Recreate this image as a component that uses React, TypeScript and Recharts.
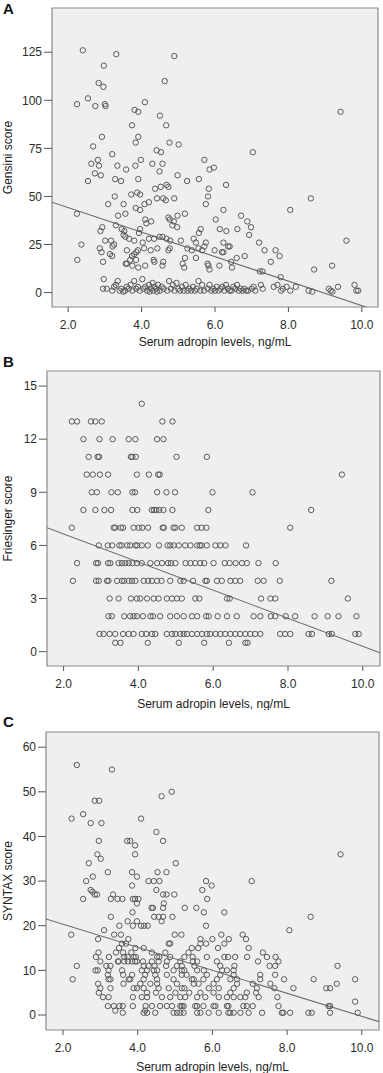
import React from "react";
import { ScatterChart, Scatter, XAxis, YAxis, ReferenceArea, ReferenceLine, Label } from "recharts";

type Pt = [number, number];

const FONT = '"Liberation Sans", Arial, Helvetica, sans-serif';

const xTicks = [2, 4, 6, 8, 10];
const gensiniTicks = [0, 25, 50, 75, 100, 125];
const friesingerTicks = [0, 3, 6, 9, 12, 15];
const syntaxTicks = [0, 10, 20, 30, 40, 50, 60];

// fitted lines: y = a + b * x
const gensiniFit = { a: 56.9, b: -6.37 };
const friesingerFit = { a: 8.23, b: -0.793 };
const syntaxFit = { a: 25.5, b: -2.58 };

// A: Gensini score vs adropin
const gensini: Pt[] = [
  [2.4, 126], [3.31, 124], [4.89, 123], [2.97, 118], [4.63, 110], [2.83, 109], [2.96, 107],
  [2.24, 98], [2.54, 101], [2.74, 97], [3.0, 98], [3.02, 97], [4.09, 99], [3.81, 95], [3.91, 94],
  [9.42, 94], [4.5, 92], [4.67, 87], [3.74, 87], [2.92, 81], [3.91, 81], [3.84, 78], [4.76, 78],
  [5.01, 77], [2.68, 76], [7.03, 73], [4.41, 74], [4.53, 73], [3.2, 72], [2.81, 69], [2.84, 66],
  [2.63, 67], [3.98, 69], [5.71, 69], [3.34, 66], [3.83, 66], [4.29, 67], [4.57, 67], [5.97, 65],
  [5.85, 64], [3.58, 64], [2.73, 62], [2.89, 61], [4.98, 61], [4.49, 63], [2.54, 58], [3.28, 59],
  [3.44, 58], [3.91, 59], [5.24, 58], [5.56, 59], [6.3, 56], [4.37, 54], [4.52, 55], [4.68, 56],
  [4.73, 55], [5.83, 54], [3.09, 46], [3.27, 50], [3.51, 46], [3.72, 51], [3.88, 52], [3.96, 51],
  [3.84, 44], [3.96, 43], [4.08, 46], [4.2, 47], [4.42, 49], [4.59, 49], [4.66, 48], [4.89, 49],
  [5.81, 50], [5.75, 46], [8.61, 49], [8.05, 43], [6.23, 43], [6.02, 38], [5.18, 41], [4.98, 40],
  [2.24, 41], [3.36, 40], [3.56, 41], [4.1, 38], [4.13, 36], [4.26, 37], [4.73, 39], [4.77, 38],
  [4.88, 37], [4.84, 35], [4.97, 34], [6.71, 40], [6.88, 37], [6.98, 34], [6.93, 30], [3.3, 35],
  [2.93, 34], [2.88, 32], [3.46, 33], [3.53, 32], [3.96, 33], [3.93, 31], [5.61, 33], [5.56, 31],
  [6.13, 33], [6.31, 32], [6.61, 33], [4.49, 29], [4.57, 29], [4.68, 28], [4.78, 27], [5.42, 28],
  [5.48, 26], [3.51, 30], [3.56, 29], [3.66, 28], [3.8, 27], [4.2, 28], [4.34, 28], [3.01, 27],
  [3.17, 27], [3.25, 25], [3.21, 24], [4.03, 26], [5.07, 27], [6.23, 26], [6.36, 24], [6.4, 24],
  [5.75, 26], [5.71, 24], [7.2, 26], [9.58, 27], [2.36, 25], [3.6, 22], [3.9, 22], [3.86, 21],
  [3.8, 20], [2.86, 23], [2.91, 21], [3.14, 20], [3.2, 19], [4.07, 23], [4.25, 22], [4.43, 23],
  [4.77, 23], [4.73, 22], [5.25, 23], [5.37, 22], [5.55, 23], [5.65, 22], [5.99, 22], [6.19, 21],
  [6.23, 21], [7.35, 22], [7.65, 22], [7.76, 19], [6.81, 19], [6.59, 18], [5.18, 18], [5.48, 18],
  [2.25, 17], [2.95, 16], [3.74, 19], [3.69, 17], [3.85, 17], [4.33, 17], [4.35, 16], [3.57, 15],
  [3.6, 15], [4.59, 16], [4.57, 14], [5.12, 15], [5.16, 13], [5.8, 15], [5.82, 14], [5.85, 12],
  [6.44, 16], [6.46, 13], [6.12, 14], [7.52, 16], [3.75, 14], [3.91, 13], [4.1, 14], [9.19, 14],
  [8.7, 12], [7.22, 11], [7.29, 11], [7.79, 8], [2.97, 7], [4.02, 7],
  [2.95, 2], [3.05, 2], [3.2, 1], [3.25, 3], [3.3, 4], [3.35, 6], [3.4, 1], [3.45, 2], [3.5, 0.5],
  [3.55, 1], [3.6, 3], [3.65, 2], [3.7, 4], [3.75, 1], [3.8, 6], [3.85, 2], [3.9, 3], [3.95, 1],
  [4.05, 2], [4.1, 3], [4.15, 1], [4.2, 4], [4.22, 0.5], [4.25, 2], [4.3, 5], [4.32, 1], [4.35, 3],
  [4.4, 2], [4.42, 0.5], [4.45, 4], [4.5, 1], [4.55, 3], [4.6, 2], [4.7, 1], [4.75, 6], [4.8, 2],
  [4.85, 4], [4.9, 1], [4.95, 5], [5.0, 2], [5.05, 1], [5.1, 3], [5.15, 1], [5.2, 4], [5.25, 1],
  [5.3, 2], [5.35, 1], [5.4, 3], [5.45, 1], [5.5, 2], [5.55, 6], [5.6, 1], [5.65, 4], [5.7, 1],
  [5.8, 2], [5.85, 4], [5.9, 1], [5.95, 2], [6.0, 1], [6.05, 3], [6.1, 1], [6.15, 2], [6.2, 3],
  [6.25, 1], [6.3, 4], [6.35, 2], [6.4, 1], [6.45, 1], [6.5, 3], [6.55, 2], [6.6, 4], [6.65, 1],
  [6.7, 2], [6.75, 1], [6.8, 2], [6.85, 1], [6.9, 1], [7.0, 2], [7.05, 3], [7.1, 1], [7.25, 4],
  [7.3, 2], [7.6, 3], [7.7, 4], [7.8, 1], [7.85, 2], [7.95, 3], [8.05, 1], [8.2, 3], [8.55, 1],
  [8.65, 0.5], [9.1, 2], [9.15, 1], [9.2, 0.5], [9.35, 3], [9.8, 4], [9.85, 1], [9.9, 1],
];

// B: Friesinger score, one row of adropin values per score
const friesingerRows: [number, number[]][] = [
  [14, [4.09]],
  [13, [2.22, 2.36, 2.73, 2.85, 3.02, 4.64, 4.91]],
  [12, [2.53, 2.96, 3.31, 3.74, 3.92, 4.5, 4.67]],
  [11, [2.67, 2.91, 2.95, 3.8, 3.84, 3.93, 5.02, 5.83]],
  [10, [2.62, 2.78, 2.97, 3.19, 3.96, 4.28, 4.53, 4.57, 9.44]],
  [9, [2.75, 2.89, 3.28, 3.45, 3.84, 3.91, 4.5, 4.75, 4.98, 5.98, 7.05]],
  [8, [2.53, 2.85, 3.09, 3.27, 3.84, 3.97, 4.36, 4.42, 4.48, 4.56, 4.67, 4.91, 5.87, 8.62]],
  [7, [2.22, 3.34, 3.38, 3.53, 3.59, 3.87, 4.01, 4.1, 4.26, 4.65, 4.68, 4.94, 4.99, 5.16, 5.57, 5.69, 5.82, 8.06]],
  [6, [2.94, 3.18, 3.3, 3.49, 3.55, 3.7, 3.78, 3.92, 3.97, 4.09, 4.25, 4.55, 4.78, 4.85, 4.94, 5.08, 5.25, 5.39, 5.57, 5.64, 5.69, 5.83, 6.06, 6.19, 6.33, 6.88]],
  [5, [2.36, 2.87, 2.92, 3.19, 3.25, 3.47, 3.56, 3.65, 3.74, 3.84, 3.96, 4.09, 4.32, 4.5, 4.63, 4.79, 4.87, 4.99, 5.26, 5.39, 5.52, 5.65, 5.76, 6.01, 6.31, 6.44, 6.6, 6.77, 6.9, 7.21, 7.67]],
  [4, [2.25, 2.87, 2.94, 3.16, 3.2, 3.43, 3.56, 3.62, 3.74, 3.83, 3.92, 4.14, 4.26, 4.36, 4.5, 4.62, 4.85, 5.12, 5.21, 5.46, 5.79, 5.83, 6.1, 6.23, 6.46, 6.59, 6.72, 7.19, 7.35, 7.78, 9.16]],
  [3, [3.23, 3.47, 3.8, 3.96, 4.05, 4.23, 4.41, 4.54, 4.76, 4.9, 5.03, 5.16, 5.52, 5.63, 6.37, 6.44, 7.28, 7.53, 7.66, 9.6]],
  [2, [3.2, 3.29, 3.62, 3.78, 3.87, 3.96, 4.12, 4.32, 4.39, 4.58, 4.85, 5.03, 5.21, 5.43, 5.57, 5.81, 5.88, 6.12, 6.37, 6.63, 7.08, 7.26, 7.54, 7.66, 7.94, 8.19, 8.71, 9.06, 9.35, 9.83]],
  [1, [2.96, 3.07, 3.23, 3.38, 3.59, 3.74, 3.87, 4.09, 4.21, 4.36, 4.45, 4.76, 4.9, 4.99, 5.12, 5.21, 5.3, 5.43, 5.57, 5.7, 5.83, 5.92, 6.06, 6.19, 6.32, 6.46, 6.59, 6.72, 6.86, 6.99, 7.12, 7.26, 7.79, 7.92, 8.06, 8.55, 8.64, 9.09, 9.17, 9.8, 9.89]],
  [0.5, [3.38, 3.52, 4.25, 5.08, 5.76, 6.42, 6.86, 6.92]],
];

// C: SYNTAX score
const syntaxUpper: Pt[] = [
  [2.37, 56], [3.31, 55], [4.91, 50], [4.64, 49], [2.85, 48], [2.97, 48], [2.54, 45], [2.23, 44],
  [4.09, 44], [2.74, 43], [3.03, 43], [4.5, 41], [3.72, 39], [3.8, 39], [4.68, 39], [2.96, 39],
  [3.93, 38], [9.43, 36], [2.92, 36], [3.93, 36], [3.01, 35], [2.69, 34], [5.02, 34], [3.2, 32],
  [3.85, 32], [3.98, 31], [4.53, 32], [4.77, 32], [2.8, 31], [2.62, 30], [4.29, 30], [4.43, 30],
  [4.58, 30], [5.83, 30], [7.05, 30], [5.98, 29], [3.85, 29], [2.74, 28], [2.79, 27.6], [2.85, 27],
  [2.91, 27], [4.5, 28], [5.73, 28], [3.34, 27], [3.46, 26], [3.59, 26], [4.68, 27], [4.77, 27],
  [4.98, 27], [3.87, 26], [3.93, 26], [3.98, 25], [4.02, 26], [2.54, 26], [3.28, 26], [5.86, 26],
  [4.7, 25], [4.37, 24], [4.41, 24], [4.68, 24], [5.26, 24], [5.57, 24], [6.32, 23], [5.77, 23],
  [3.86, 23], [4.44, 22], [4.56, 22], [4.68, 22], [3.28, 22], [4.93, 22], [8.63, 22], [3.73, 21],
  [3.87, 20], [3.98, 21], [4.09, 20], [4.17, 20], [4.27, 20], [4.64, 21], [3.51, 20], [5.83, 20],
  [8.06, 19], [3.1, 19], [2.22, 18], [3.37, 18], [3.55, 18], [4.99, 18], [5.17, 18], [6.24, 18],
  [6.81, 18], [2.94, 17], [3.75, 17], [5.68, 17], [6.0, 17], [6.44, 17], [6.9, 17], [2.37, 11],
  [9.35, 11], [9.82, 3],
];
const syntaxRows: [number, number[]][] = [
  [16, [3.58, 3.69, 4.83, 4.87, 5.68, 5.83, 6.32]],
  [15, [3.5, 3.94, 4.16, 5.45, 5.62, 6.15, 6.97]],
  [14, [2.95, 3.42, 3.61, 3.83, 4.38, 4.74, 5.36, 7.35]],
  [13, [2.88, 3.23, 3.64, 3.73, 3.89, 3.95, 4.52, 4.58, 4.87, 5.25, 5.47, 5.85, 6.32, 6.42, 6.61, 6.93, 7.46, 7.69]],
  [12, [3.0, 3.47, 3.49, 3.64, 3.74, 3.85, 3.93, 3.98, 4.14, 4.38, 4.56, 4.78, 5.14, 5.48, 5.59, 6.12, 7.22, 7.77]],
  [11, [3.16, 3.27, 4.16, 4.29, 4.45, 4.76, 5.05, 5.18, 5.52, 6.21, 6.59, 7.53, 7.68]],
  [10, [2.87, 2.93, 3.22, 3.58, 4.11, 4.25, 4.43, 4.52, 4.96, 5.18, 5.25, 5.59, 5.77, 6.26, 6.39, 6.57]],
  [9, [3.2, 3.61, 3.85, 4.2, 4.47, 4.78, 5.18, 5.31, 5.85, 6.21, 6.57, 7.28, 7.68]],
  [8, [2.26, 3.22, 3.27, 3.76, 3.8, 4.16, 4.52, 4.96, 5.45, 5.5, 5.76, 6.12, 6.48, 6.66, 7.28, 7.92, 8.71, 9.82]],
  [7, [2.94, 3.62, 4.07, 4.34, 4.52, 5.05, 5.5, 5.63, 6.03, 6.66, 7.08, 7.55, 9.33]],
  [6, [3.0, 3.27, 3.89, 3.98, 4.16, 4.56, 4.83, 5.18, 5.25, 5.9, 6.17, 6.57, 7.19, 7.66, 8.17, 9.05, 9.15]],
  [5, [2.96, 4.25, 4.49, 5.01, 5.38, 5.68, 6.03, 6.48, 6.92, 7.17]],
  [4, [3.07, 3.22, 3.87, 4.11, 4.25, 4.65, 4.87, 5.14, 5.27, 5.59, 5.81, 6.17, 6.39, 6.57, 6.75, 6.88, 7.24, 7.74]],
  [2, [3.2, 3.36, 3.51, 3.6, 3.87, 4.21, 4.38, 4.6, 4.78, 4.92, 5.14, 5.18, 5.23, 5.54, 5.59, 5.76, 6.03, 6.08, 6.39, 6.43, 6.83, 6.92, 7.08, 7.77, 9.11, 9.15]],
  [1, [3.4, 4.2]],
  [0.5, [3.6, 4.16, 4.25, 4.47, 4.96, 5.05, 5.14, 5.23, 5.59, 5.68, 5.9, 6.17, 6.43, 6.48, 6.57, 6.75, 6.97, 7.33, 7.86, 7.9, 8.08, 8.57, 8.66, 9.15, 9.89]],
];

const fromPts = (pts: Pt[]) => pts.map(([x, y]) => ({ x, y }));
const fromRows = (rows: [number, number[]][]) => rows.flatMap(([y, xs]) => xs.map((x) => ({ x, y })));

const Ring = (props: any) => {
  if (props.cx == null || props.cy == null) return null;
  return <circle cx={props.cx} cy={props.cy} r={2.7} fill="none" stroke="#5a5a5a" strokeWidth={1} />;
};

type PanelProps = {
  letter: string;
  letterTop: number;
  top: number;
  height: number;
  marginTop: number;
  marginRight: number;
  yWidth: number;
  xHeight: number;
  xLabelOffset: number;
  xDomain: [number, number];
  yDomain: [number, number];
  yTicks: number[];
  yLabel: string;
  data: { x: number; y: number }[];
  fit: { a: number; b: number };
};

function Panel(p: PanelProps) {
  const tickStyle = { fill: "#2b2b2b", fontSize: 12, fontFamily: FONT };
  const [x0, x1] = p.xDomain;
  return (
    <div style={{ position: "absolute", left: 0, top: p.top, width: 383, height: p.height }}>
      <ScatterChart
        width={383}
        height={p.height}
        margin={{ top: p.marginTop, right: p.marginRight, bottom: 0, left: 0 }}
      >
        <XAxis
          type="number"
          dataKey="x"
          domain={p.xDomain}
          ticks={xTicks}
          interval={0}
          allowDataOverflow
          tickFormatter={(v: number) => v.toFixed(1)}
          axisLine={false}
          tickLine={{ stroke: "#555" }}
          tickSize={5}
          tickMargin={8}
          height={p.xHeight}
          tick={tickStyle}
        >
          <Label
            value="Serum adropin levels, ng/mL"
            position="insideBottom"
            offset={p.xLabelOffset}
            style={{ fill: "#222", fontSize: 12, fontFamily: FONT }}
          />
        </XAxis>
        <YAxis
          type="number"
          dataKey="y"
          domain={p.yDomain}
          ticks={p.yTicks}
          interval={0}
          allowDataOverflow
          axisLine={false}
          tickLine={{ stroke: "#555" }}
          tickSize={8}
          tickMargin={2}
          width={p.yWidth}
          tick={tickStyle}
        >
          <Label
            value={p.yLabel}
            position="insideLeft"
            angle={-90}
            offset={7.5}
            style={{ fill: "#222", fontSize: 12, fontFamily: FONT, textAnchor: "middle" }}
          />
        </YAxis>
        <ReferenceArea
          x1={x0}
          x2={x1}
          y1={p.yDomain[0]}
          y2={p.yDomain[1]}
          fill="#efefef"
          fillOpacity={1}
          stroke="#8a8a8a"
          strokeWidth={1.2}
        />
        <ReferenceLine
          segment={[
            { x: x0, y: p.fit.a + p.fit.b * x0 },
            { x: x1, y: p.fit.a + p.fit.b * x1 },
          ]}
          stroke="#6a6a6a"
          strokeWidth={1.1}
          ifOverflow="hidden"
        />
        <Scatter data={p.data} shape={Ring} isAnimationActive={false} />
      </ScatterChart>
      <div
        style={{
          position: "absolute",
          left: 3,
          top: p.letterTop,
          fontFamily: FONT,
          fontWeight: "bold",
          fontSize: 15,
          lineHeight: "15px",
          color: "#111",
        }}
      >
        {p.letter}
      </div>
    </div>
  );
}

export default function App() {
  return (
    <div style={{ position: "absolute", left: 0, top: 0, width: 383, height: 1073, background: "#fff" }}>
      <Panel
        letter="A"
        letterTop={1}
        top={0}
        height={350}
        marginTop={8}
        marginRight={5}
        yWidth={52}
        xHeight={43}
        xLabelOffset={4}
        xDomain={[1.56, 10.44]}
        yDomain={[-7.5, 148]}
        yTicks={gensiniTicks}
        yLabel="Gensini score"
        data={fromPts(gensini)}
        fit={gensiniFit}
      />
      <Panel
        letter="B"
        letterTop={4}
        top={350}
        height={360}
        marginTop={21}
        marginRight={3}
        yWidth={47}
        xHeight={44}
        xLabelOffset={2}
        xDomain={[1.556, 10.46]}
        yDomain={[-0.81, 15.85]}
        yTicks={friesingerTicks}
        yLabel="Friesinger score"
        data={fromRows(friesingerRows)}
        fit={friesingerFit}
      />
      <Panel
        letter="C"
        letterTop={4}
        top={710}
        height={363}
        marginTop={22}
        marginRight={4}
        yWidth={46}
        xHeight={43}
        xLabelOffset={2}
        xDomain={[1.545, 10.46]}
        yDomain={[-3.36, 63.4]}
        yTicks={syntaxTicks}
        yLabel="SYNTAX score"
        data={[...fromPts(syntaxUpper), ...fromRows(syntaxRows)]}
        fit={syntaxFit}
      />
    </div>
  );
}
